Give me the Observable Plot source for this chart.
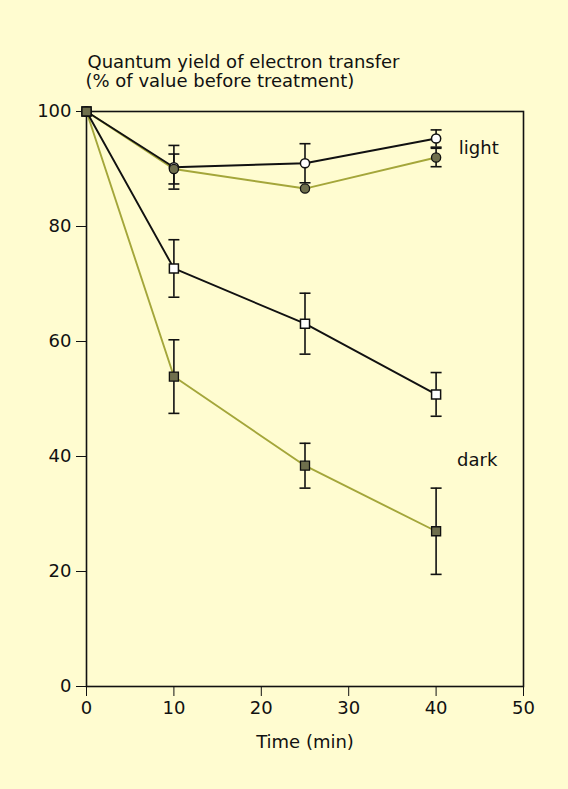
<!DOCTYPE html>
<html>
<head>
<meta charset="utf-8">
<script src="https://cdn.jsdelivr.net/npm/d3@7"></script>
<script src="https://cdn.jsdelivr.net/npm/@observablehq/plot@0.6"></script>
<style>
  html, body { margin: 0; padding: 0; background: #fffcd0; }
</style>
</head>
<body>
<div id="chart"></div>
<script>
// ---- data ----
const timeMin = [0, 10, 25, 40];

const lightOpen      = [100, 90.3, 91.0, 95.3];
const lightOpenErr   = [0, 3.8, 3.4, 1.5];
const lightFilled    = [100, 90.0, 86.6, 92.0];
const lightFilledErr = [0, 2.6, 0, 1.6];

const darkOpen       = [100, 72.7, 63.1, 50.8];
const darkOpenErr    = [0, 5.0, 5.3, 3.8];
const darkFilled     = [100, 53.9, 38.4, 27.0];
const darkFilledErr  = [0, 6.4, 3.9, 7.5];

const xTicks = [0, 10, 20, 30, 40, 50];
const yTicks = [0, 20, 40, 60, 80, 100];

const titleLines = ["Quantum yield of electron transfer", "(% of value before treatment)"];
const xLabel = "Time (min)";
const seriesLabels = ["light", "dark"];
const seriesLabelX = [42.6, 42.4];
const seriesLabelY = [93.6, 39.3];

// ---- build tables ----
const rows = (vals, errs) => timeMin.map((t, i) => ({t, v: vals[i], e: errs[i]}));
const lo = rows(lightOpen, lightOpenErr);
const lf = rows(lightFilled, lightFilledErr);
const dOpen = rows(darkOpen, darkOpenErr);
const dFill = rows(darkFilled, darkFilledErr);
const allBars = [...lo, ...lf, ...dOpen, ...dFill].filter(d => d.e > 0);
const caps = allBars.flatMap(d => [{t: d.t, v: d.v - d.e}, {t: d.t, v: d.v + d.e}]);
const labels = seriesLabels.map((s, i) => ({s, x: seriesLabelX[i], y: seriesLabelY[i]}));

const capSymbol = {
  draw(ctx, size) {
    const r = Math.sqrt(size / Math.PI);
    ctx.moveTo(-r, 0);
    ctx.lineTo(r, 0);
  }
};

const olive = "#a4a63a";
const markFill = "#6f6f4d";
const ink = "#111";

const chart = Plot.plot({
  width: 568,
  height: 789,
  marginLeft: 86,
  marginRight: 45,
  marginTop: 111,
  marginBottom: 103,
  style: {background: "#fffcd0", fontFamily: "DejaVu Sans", fontSize: "18px", color: ink},
  x: {domain: [0, 50]},
  y: {domain: [0, 100]},
  marks: [
    Plot.frame({stroke: ink, strokeWidth: 1.6}),
    Plot.axisX({ticks: xTicks, tickSize: 10, tickPadding: 5, label: null, fontSize: 18}),
    Plot.axisY({ticks: yTicks, tickSize: 10, tickPadding: 5, label: null, fontSize: 18}),
    // lines
    Plot.line(lf, {x: "t", y: "v", stroke: olive, strokeWidth: 1.9}),
    Plot.line(dFill, {x: "t", y: "v", stroke: olive, strokeWidth: 1.9}),
    Plot.line(lo, {x: "t", y: "v", stroke: ink, strokeWidth: 1.9}),
    Plot.line(dOpen, {x: "t", y: "v", stroke: ink, strokeWidth: 1.9}),
    // error bars
    Plot.ruleX(allBars, {x: "t", y1: d => d.v - d.e, y2: d => d.v + d.e, stroke: ink, strokeWidth: 1.6}),
    Plot.dot(caps, {x: "t", y: "v", symbol: capSymbol, r: 5.5, stroke: ink, strokeWidth: 1.6, fill: "none"}),
    // markers
    Plot.dot(lo, {x: "t", y: "v", symbol: "circle", r: 4.6, fill: "white", stroke: ink, strokeWidth: 1.5}),
    Plot.dot(dOpen, {x: "t", y: "v", symbol: "square", r: 5.1, fill: "white", stroke: ink, strokeWidth: 1.5}),
    Plot.dot(lf, {x: "t", y: "v", symbol: "circle", r: 4.6, fill: markFill, stroke: ink, strokeWidth: 1.3}),
    Plot.dot(dFill, {x: "t", y: "v", symbol: "square", r: 5.1, fill: markFill, stroke: ink, strokeWidth: 1.3}),
    // series labels
    Plot.text(labels, {x: "x", y: "y", text: "s", textAnchor: "start", fill: ink, fontSize: 18}),
    // titles
    Plot.text([titleLines[0]], {text: d => d, frameAnchor: "top-left", textAnchor: "start", dx: 1, dy: -56, fill: ink, fontSize: 18}),
    Plot.text([titleLines[1]], {text: d => d, frameAnchor: "top-left", textAnchor: "start", dx: -1, dy: -37, fill: ink, fontSize: 18}),
    Plot.text([xLabel], {text: d => d, frameAnchor: "bottom", dy: 61, fill: ink, fontSize: 18})
  ]
});
document.getElementById("chart").appendChild(chart);
</script>
</body>
</html>
